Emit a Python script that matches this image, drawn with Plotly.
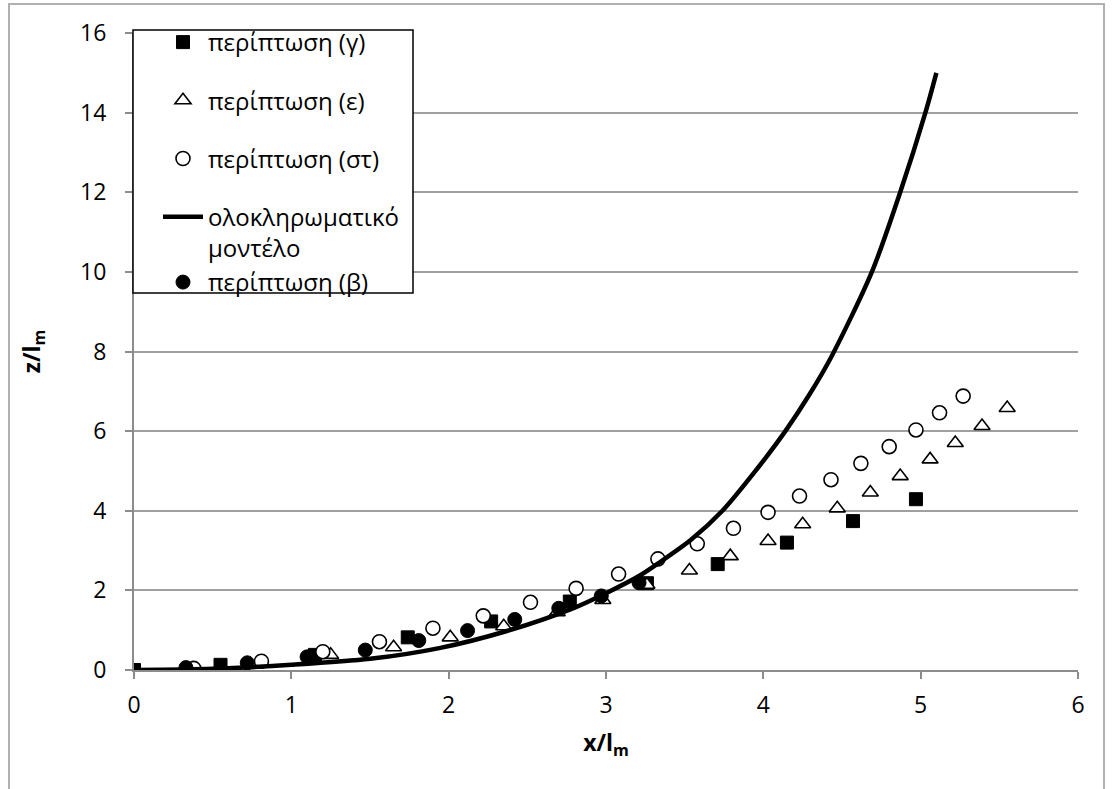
import plotly.graph_objects as go

# ---- data ----
gamma_x = [0, 0.55, 1.15, 1.74, 2.27, 2.77, 3.26, 3.71, 4.15, 4.57, 4.97]
gamma_y = [0, 0.13, 0.38, 0.82, 1.22, 1.72, 2.18, 2.66, 3.20, 3.74, 4.29]

eps_x = [0.37, 1.25, 1.65, 2.01, 2.35, 2.69, 2.98, 3.26, 3.53, 3.79, 4.03, 4.25,
         4.47, 4.68, 4.87, 5.06, 5.22, 5.39, 5.55]
eps_y = [0.03, 0.38, 0.57, 0.82, 1.10, 1.45, 1.76, 2.14, 2.50, 2.86, 3.24, 3.66,
         4.06, 4.46, 4.87, 5.29, 5.70, 6.13, 6.58]

st_x = [0.38, 0.81, 1.20, 1.56, 1.90, 2.22, 2.52, 2.81, 3.08, 3.33, 3.58, 3.81,
        4.03, 4.23, 4.43, 4.62, 4.80, 4.97, 5.12, 5.27]
st_y = [0.04, 0.22, 0.46, 0.71, 1.05, 1.36, 1.70, 2.05, 2.41, 2.79, 3.17, 3.56,
        3.96, 4.37, 4.78, 5.19, 5.61, 6.03, 6.46, 6.88]

beta_x = [0.33, 0.72, 1.10, 1.47, 1.81, 2.12, 2.42, 2.70, 2.97, 3.21]
beta_y = [0.06, 0.18, 0.33, 0.50, 0.74, 0.99, 1.27, 1.55, 1.86, 2.19]

model_x = [0, 0.5, 1.0, 1.5, 1.94, 2.37, 2.79, 3.0, 3.21, 3.34, 3.54, 3.74,
           3.94, 4.14, 4.29, 4.43, 4.69, 4.87, 5.03, 5.10]
model_y = [0, 0.03, 0.13, 0.28, 0.55, 0.98, 1.55, 1.93, 2.36, 2.70, 3.27, 4.0,
           4.95, 6.0, 6.9, 7.85, 10.0, 12.0, 14.0, 15.0]

x_ticks = [0, 1, 2, 3, 4, 5, 6]
y_ticks = [0, 2, 4, 6, 8, 10, 12, 14, 16]

FONT = "Open Sans"
GRID = "#a0a0a0"

fig = go.Figure()
fig.add_trace(go.Scatter(x=gamma_x, y=gamma_y, mode="markers", name="περίπτωση (γ)",
                         legendgroup="g1",
                         marker=dict(symbol="square", size=13, color="black",
                                     line=dict(color="black", width=1))))
fig.add_trace(go.Scatter(x=eps_x, y=eps_y, mode="markers", name="περίπτωση (ε)",
                         legendgroup="g2",
                         marker=dict(symbol="triangle-up", size=14, color="white",
                                     line=dict(color="black", width=1.6))))
fig.add_trace(go.Scatter(x=st_x, y=st_y, mode="markers", name="περίπτωση (στ)",
                         legendgroup="g3",
                         marker=dict(symbol="circle", size=14, color="white",
                                     line=dict(color="black", width=1.6))))
fig.add_trace(go.Scatter(x=model_x, y=model_y, mode="lines",
                         name="ολοκληρωματικό<br>μοντέλο", legendgroup="g4",
                         line=dict(color="black", width=4.5, shape="spline",
                                   smoothing=0.8)))
fig.add_trace(go.Scatter(x=beta_x, y=beta_y, mode="markers", name="περίπτωση (β)",
                         legendgroup="g4",
                         marker=dict(symbol="circle", size=14, color="black",
                                     line=dict(color="black", width=1))))

W, H = 1113, 789
L, R, T, B = 134, 35, 33, 119
pw, ph = W - L - R, H - T - B


def px_x(p):
    return (p - L) / pw


def px_y(p):
    return (H - B - p) / ph


shapes = [
    # outer chart border
    dict(type="rect", xref="paper", yref="paper",
         x0=px_x(9), x1=px_x(1104), y0=px_y(820), y1=px_y(4),
         line=dict(color="#b0b0b0", width=2), fillcolor="rgba(0,0,0,0)", layer="below"),
    # legend box
    dict(type="rect", xref="paper", yref="paper",
         x0=px_x(133), x1=px_x(413), y0=px_y(293), y1=px_y(30),
         line=dict(color="black", width=1.5), fillcolor="white", layer="above"),
]

fig.update_layout(
    width=W, height=H,
    margin=dict(l=L, r=R, t=T, b=B, pad=0),
    paper_bgcolor="white", plot_bgcolor="white",
    font=dict(family=FONT, size=23, color="black"),
    showlegend=True,
    legend=dict(x=px_x(158), y=px_y(20), xanchor="left", yanchor="top",
                bgcolor="rgba(0,0,0,0)", borderwidth=0,
                traceorder="grouped", tracegroupgap=24, valign="top",
                itemwidth=40,
                font=dict(family=FONT, size=24, color="black")),
    shapes=shapes,
    xaxis=dict(range=[0, 6], tickvals=x_ticks, ticks="outside", ticklen=7,
               tickcolor="#8c8c8c", tickwidth=1.5,
               showline=True, linecolor="#8c8c8c", linewidth=2,
               showgrid=False, zeroline=False,
               ticklabelstandoff=6,
               tickfont=dict(family=FONT, size=23),
               title=dict(text="<b>x/l<sub>m</sub></b>", standoff=16,
                          font=dict(family=FONT, size=23))),
    yaxis=dict(range=[0, 16], tickvals=y_ticks, ticks="outside", ticklen=7,
               tickcolor="#8c8c8c", tickwidth=1.5,
               showline=True, linecolor="#8c8c8c", linewidth=2,
               showgrid=True, gridcolor=GRID, gridwidth=2, zeroline=False,
               ticklabelstandoff=14,
               tickfont=dict(family=FONT, size=23),
               title=dict(text="<b>z/l<sub>m</sub></b>", standoff=33,
                          font=dict(family=FONT, size=23))),
)

fig.write_html("out.html")
